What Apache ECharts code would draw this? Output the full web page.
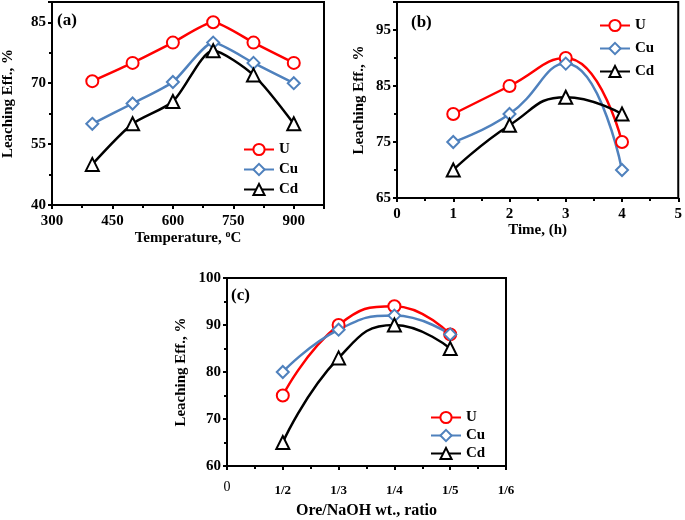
<!DOCTYPE html>
<html><head><meta charset="utf-8">
<script src="https://cdn.jsdelivr.net/npm/echarts@6/dist/echarts.min.js"></script>
<style>html,body{margin:0;padding:0;background:#fff}#c{width:685px;height:520px}</style>
</head><body><div id="c"></div>
<script>
// Panel (a): temperature
const tempX = [400, 500, 600, 700, 800, 900];
const tempU = [70.5, 75, 80, 85, 80, 75];
const tempCu = [60, 65, 70.3, 80, 75, 70];
const tempCd = [50, 60, 65.5, 78, 72, 60];
// Panel (b): time
const timeX = [1, 2, 3, 4];
const timeU = [80, 85, 90, 75];
const timeCu = [75, 80, 89, 70];
const timeCd = [70, 78, 83, 80];
// Panel (c): Ore/NaOH ratio
const ratioX = [1, 2, 3, 4];
const ratioLabels = ['0', '1/2', '1/3', '1/4', '1/5', '1/6'];
const ratioU = [75, 90, 94, 88];
const ratioCu = [80, 89, 92, 88];
const ratioCd = [65, 83, 90, 85];

const FONT = 'Liberation Serif';
const pair = (xs, ys) => xs.map((x, i) => [x, ys[i]]);

const styles = {
  U: {color: '#FF0000', symbol: 'circle', size: 12},
  Cu: {color: '#4F81BD', symbol: 'diamond', size: 12},
  Cd: {color: '#000000', symbol: 'triangle', size: 13}
};
function mk(name, data, idx, smooth) {
  const s = styles[name];
  return {
    name, type: 'line', data, xAxisIndex: idx, yAxisIndex: idx, smooth,
    symbol: s.symbol, symbolSize: s.size,
    lineStyle: {color: s.color, width: 2.5},
    itemStyle: {color: '#fff', borderColor: s.color, borderWidth: 2},
    emphasis: {disabled: true}, animation: false
  };
}
const lab = {fontFamily: FONT, fontWeight: 'bold', fontSize: 15, color: '#000'};
const axLine = {show: true, lineStyle: {color: '#000', width: 2}};
const tick = {show: true, length: 4, lineStyle: {color: '#000', width: 2}};
const minor = {show: true, splitNumber: 2, length: 3, lineStyle: {color: '#000', width: 2}};
const nameSt = {fontFamily: FONT, fontWeight: 'bold', fontSize: 15, color: '#000'};

function xAx(idx, min, max, interval, name, gap, extra) {
  return Object.assign({
    type: 'value', gridIndex: idx, min, max, interval,
    axisLine: axLine, axisTick: tick, minorTick: minor, splitLine: {show: false},
    axisLabel: Object.assign({margin: 9, showMaxLabel: true}, lab),
    name, nameLocation: 'middle', nameGap: gap, nameTextStyle: nameSt
  }, extra || {});
}
function yAx(idx, min, max, interval, gap, showMax) {
  return {
    type: 'value', gridIndex: idx, min, max, interval,
    axisLine: axLine, axisTick: tick, minorTick: minor, splitLine: {show: false},
    axisLabel: Object.assign({margin: 6, showMaxLabel: !!showMax}, lab),
    name: 'Leaching Eff., %', nameLocation: 'middle', nameGap: gap, nameTextStyle: nameSt
  };
}
function legend(left, top, gap) {
  return {
    data: ['U', 'Cu', 'Cd'], orient: 'vertical', left, top, itemWidth: 30, itemHeight: 14,
    itemGap: gap, selectedMode: false,
    textStyle: {fontFamily: FONT, fontWeight: 'bold', fontSize: 15, color: '#000', padding: [0, 0, 0, 0]}
  };
}

const option = {
  animation: false,
  grid: [
    {left: 51, top: 2, width: 273, height: 203, show: true, borderColor: '#000', borderWidth: 2},
    {left: 397, top: 2, width: 283, height: 196, show: true, borderColor: '#000', borderWidth: 2},
    {left: 227, top: 278, width: 279, height: 191, show: true, borderColor: '#000', borderWidth: 2}
  ],
  xAxis: [
    xAx(0, 300, 975, 150, 'Temperature, {s|o}C', 22, {
      axisLabel: Object.assign({margin: 9, showMaxLabel: false}, lab),
      nameTextStyle: Object.assign({}, nameSt, {rich: {s: {fontFamily: FONT, fontWeight: 'bold', fontSize: 10, verticalAlign: 'top', padding: [0, 0, 6, 0]}}})
    }),
    xAx(1, 0, 5, 1, 'Time, (h)', 25),
    xAx(2, 0, 5, 1, 'Ore/NaOH wt., ratio', 37, {
      axisLabel: {
        margin: 14, showMaxLabel: true,
        formatter: v => { const i = Math.round(v); return i === 0 ? '{r|0}' : '{b|' + ratioLabels[i] + '}'; },
        rich: {
          r: {fontFamily: FONT, fontSize: 14, color: '#000'},
          b: {fontFamily: FONT, fontWeight: 'bold', fontSize: 13, color: '#000', padding: [4, 0, 0, 0]}
        }
      },
      nameTextStyle: Object.assign({}, nameSt, {fontSize: 16})
    })
  ],
  yAxis: [
    yAx(0, 40, 90, 15, 36, false),
    yAx(1, 65, 100, 10, 30, false),
    yAx(2, 60, 100, 10, 38, true)
  ],
  legend: [legend(238, 137, 5), legend(594, 13, 8), legend(425, 405, 3)],
  graphic: [
    {type: 'text', left: 57, top: 12, style: {text: '(a)', font: 'bold 17px "Liberation Serif"', fill: '#000'}},
    {type: 'text', left: 411, top: 14, style: {text: '(b)', font: 'bold 17px "Liberation Serif"', fill: '#000'}},
    {type: 'text', left: 231, top: 287, style: {text: '(c)', font: 'bold 17px "Liberation Serif"', fill: '#000'}}
  ],
  series: [
    mk('U', pair(tempX, tempU), 0, 0.2),
    mk('Cu', pair(tempX, tempCu), 0, 0.2),
    mk('Cd', pair(tempX, tempCd), 0, 0.25),
    mk('U', pair(timeX, timeU), 1, 0.5),
    mk('Cu', pair(timeX, timeCu), 1, 0.5),
    mk('Cd', pair(timeX, timeCd), 1, 0.5),
    mk('U', pair(ratioX, ratioU), 2, 0.5),
    mk('Cu', pair(ratioX, ratioCu), 2, 0.5),
    mk('Cd', pair(ratioX, ratioCd), 2, 0.5)
  ]
};
const chart = echarts.init(document.getElementById('c'), null, {renderer: 'canvas'});
chart.setOption(option);
</script></body></html>
